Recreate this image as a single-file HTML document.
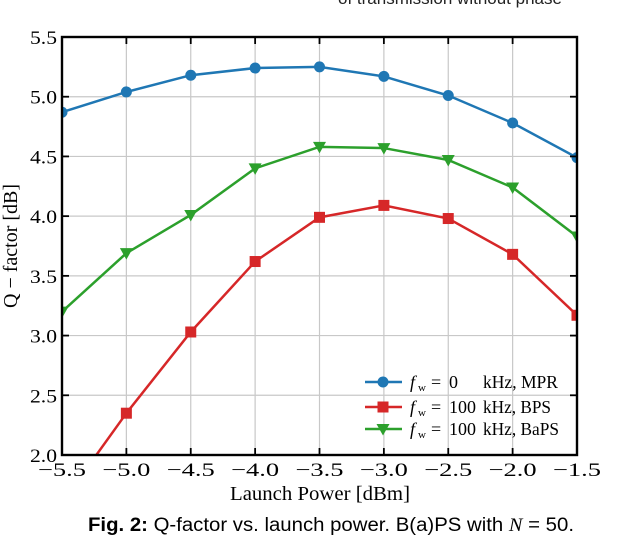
<!DOCTYPE html>
<html><head><meta charset="utf-8"><style>
body{margin:0;background:#fff;width:620px;height:536px;overflow:hidden;}
svg text{font-family:"Liberation Serif",serif;}
</style></head><body>
<svg id="chart" width="620" height="536">
<text x="338" y="4" font-size="17" fill="#222" style="font-family:'Liberation Sans',sans-serif">of transmission without phase</text>
<defs><clipPath id="pc"><rect x="62" y="37" width="515" height="418"/></clipPath></defs>
<g id="grid"></g>
<g id="series" clip-path="url(#pc)"></g>
<g id="axes"></g>
<text x="230" y="500" font-size="20" textLength="180" lengthAdjust="spacingAndGlyphs">Launch Power [dBm]</text>
<text transform="translate(17,246) rotate(-90)" font-size="20" text-anchor="middle">Q − factor [dB]</text>
<g id="legend"></g>
<text x="88" y="531" font-size="19" textLength="486" lengthAdjust="spacingAndGlyphs" style="font-family:'Liberation Sans',sans-serif"><tspan font-weight="bold">Fig. 2:</tspan> Q-factor vs. launch power. B(a)PS with <tspan font-style="italic" style="font-family:'Liberation Serif',serif">N</tspan> = 50.</text>
</svg>
<script>
const xValues=[-5.5,-5,-4.5,-4,-3.5,-3,-2.5,-2,-1.5];
const mprValues=[4.87,5.04,5.18,5.24,5.25,5.17,5.01,4.78,4.49];
const bpsValues=[1.6,2.35,3.03,3.62,3.99,4.09,3.98,3.68,3.17];
const bapsValues=[3.20,3.69,4.01,4.40,4.58,4.57,4.47,4.24,3.83];
const xTicks=["−5.5","−5.0","−4.5","−4.0","−3.5","−3.0","−2.5","−2.0","−1.5"];
const yTicks=[2.0,2.5,3.0,3.5,4.0,4.5,5.0,5.5];
const seriesNames=["mpr","bps","baps"];
const NS="http://www.w3.org/2000/svg";
const L=62,R=577,T=37,B=455;
const sx=v=>L+(v+5.5)/4*(R-L);
const sy=v=>B-(v-2)/3.5*(B-T);
function mk(tag,attrs,parent){const e=document.createElementNS(NS,tag);for(const k in attrs)e.setAttribute(k,attrs[k]);parent.appendChild(e);return e;}
const grid=document.getElementById('grid'),axes=document.getElementById('axes'),ser=document.getElementById('series');
xValues.forEach((v,i)=>{
 const x=sx(v);
 const g=mk('line',{x1:x,x2:x,y1:T,y2:B,stroke:'#c8c8c8','stroke-width':1.2},grid);
 
 mk('line',{x1:x,x2:x,y1:B,y2:B-7,stroke:'#000','stroke-width':1.8},axes);
 mk('line',{x1:x,x2:x,y1:T,y2:T+7,stroke:'#000','stroke-width':1.8},axes);
 const t=mk('text',{x:x-24,y:B+21,'font-size':19,textLength:48,lengthAdjust:'spacingAndGlyphs'},axes);t.textContent=xTicks[i];
 
});
yTicks.forEach(v=>{
 const y=sy(v);
 const g=mk('line',{x1:L,x2:R,y1:y,y2:y,stroke:'#c8c8c8','stroke-width':1.2},grid);
 
 mk('line',{x1:L,x2:L+7,y1:y,y2:y,stroke:'#000','stroke-width':1.8},axes);
 mk('line',{x1:R,x2:R-7,y1:y,y2:y,stroke:'#000','stroke-width':1.8},axes);
 const t=mk('text',{x:30,y:y+7,'font-size':19,textLength:27,lengthAdjust:'spacingAndGlyphs'},axes);t.textContent=v.toFixed(1);
 
});
const fr=mk('rect',{x:L,y:T,width:R-L,height:B-T,fill:'none',stroke:'#000','stroke-width':2.4},axes);

function marker(shape,x,y,c,p){
 if(shape==='o')return mk('circle',{cx:x,cy:y,r:5.5,fill:c},p);
 if(shape==='s')return mk('rect',{x:x-5.5,y:y-5.5,width:11,height:11,fill:c},p);
 return mk('path',{d:`M${x-6.5},${y-5} L${x+6.5},${y-5} L${x},${y+6.5} Z`,fill:c},p);
}
const defs=[[mprValues,'#1f77b4','o'],[bpsValues,'#d62728','s'],[bapsValues,'#2ca02c','v']];
defs.forEach(([vals,c,m],k)=>{
 const g=mk('g',{},ser);
 
 const pl=mk('polyline',{points:vals.map((v,i)=>sx(xValues[i])+','+sy(v)).join(' '),fill:'none',stroke:c,'stroke-width':2.5},g);
 
 vals.forEach((v,i)=>{const e=marker(m,sx(xValues[i]),sy(v),c,g);
  });
});
const lg=document.getElementById('legend');
const nums=['0','100','100'];
const tails=[['kHz, MPR',75],['kHz, BPS',68],['kHz, BaPS',76]];
const ys=[382,407,429];
defs.forEach(([v,c,m],k)=>{
 const y=ys[k];
 const e=mk('g',{},lg);
 
 mk('line',{x1:365,x2:402,y1:y,y2:y,stroke:c,'stroke-width':2.5},e);
 marker(m,383,y,c,e);
 const a=mk('text',{x:410,y:y+6,'font-size':18,'font-style':'italic'},e);a.textContent='f';
 const s=mk('text',{x:418,y:y+9,'font-size':11},e);s.textContent='w';
 const eq=mk('text',{x:431,y:y+6,'font-size':18},e);eq.textContent='=';
 const n=mk('text',{x:449,y:y+6,'font-size':18},e);n.textContent=nums[k];
 const t=mk('text',{x:483,y:y+6,'font-size':18,textLength:tails[k][1],lengthAdjust:'spacingAndGlyphs'},e);t.textContent=tails[k][0];
});
</script>
</body></html>
